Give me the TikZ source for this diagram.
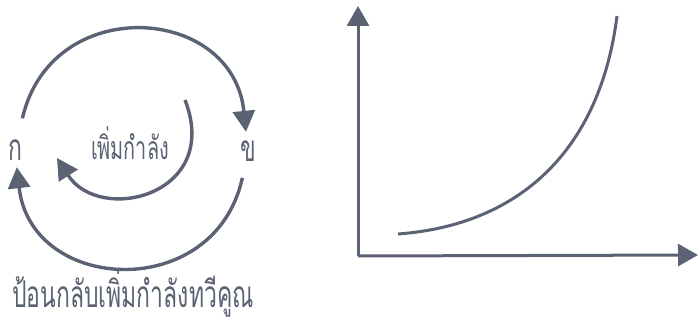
\documentclass[tikz,border=0pt]{standalone}
\usepackage{fontspec}
\newfontfamily\thaifont[Script=Thai,FakeStretch=0.62]{Loma}
\usetikzlibrary{arrows.meta,positioning}
\definecolor{ink}{RGB}{91,98,116}
\begin{document}
\begin{tikzpicture}[x=1pt, y=1pt,
    font=\thaifont\fontsize{37}{40}\selectfont, text=ink,
    tag/.style={inner sep=2pt, text height=20pt, text depth=0pt},
    looparrow/.style={-{Triangle[length=21pt,width=22pt]}, line width=3.4pt, draw=ink},
    axis/.style={-{Triangle[length=20pt,width=22pt]}, line width=3pt, draw=ink},
    growth/.style={line width=3pt, draw=ink}
]
\useasboundingbox (0,0) rectangle (698,324);
\node[tag] (ka) at (15,173) {ก};
\node[tag] (kho) at (248,172) {ข};
\node[font=\thaifont\fontsize{32}{34}\selectfont] (boost) at (130,181) {เพิ่มกำลัง};
\node[inner sep=0pt] (title) at (133,31) {ป้อนกลับเพิ่มกำลังทวีคูณ};
\coordinate (inner start) at (185,224);
\coordinate (inner end) at (57,166);
\draw[looparrow, shorten <=21pt, shorten >=8pt] (ka) .. controls +(36,158) and +(-15,148) .. (kho);
\draw[looparrow, shorten <=14pt, shorten >=4pt] (kho) .. controls +(-33,-151) and +(16,-143) .. (ka);
\draw[looparrow] (inner start) .. controls (222,129) and (100,99) .. (inner end);
\coordinate (origin) at (358,68);
\coordinate (y top) at (358,318);
\coordinate (x end) at (698,69);
\draw[axis] (origin) -- (y top);
\draw[axis] (origin) -- (x end);
\coordinate (curve start) at (398,90);
\coordinate (curve end) at (617,308);
\draw[growth] (curve start) .. controls (520,99) and (600,174) .. (curve end);
\end{tikzpicture}
\end{document}
